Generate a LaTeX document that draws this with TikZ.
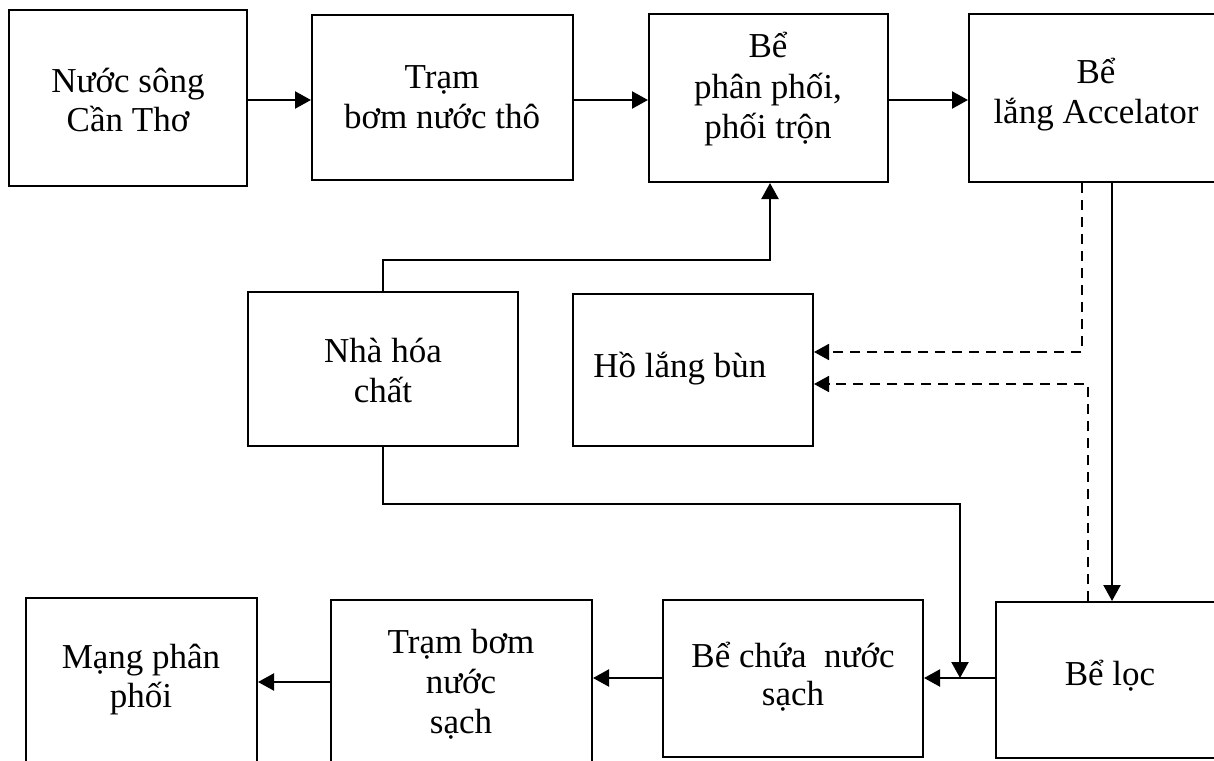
\documentclass[tikz,border=0pt]{standalone}
\usepackage{fontspec}
\setmainfont{Liberation Serif}
\usetikzlibrary{arrows.meta,fit}
\begin{document}
\begin{tikzpicture}[x=0.5pt,y=-0.5pt,
  blk/.style={draw, line width=1pt, inner sep=0pt, rectangle},
  txt/.style={anchor=base, inner sep=0pt, font=\fontsize{17.5pt}{20pt}\selectfont},
  arr/.style={line width=1.1pt, -{Triangle[length=8pt,width=8.5pt]}},
  darr/.style={line width=0.9pt, dash pattern=on 5pt off 3.5pt, -{Triangle[length=7.5pt,width=8pt]}}
]
\useasboundingbox (0,0) rectangle (1214,760);
\fill[white] (0,0) rectangle (1214,760);
\clip (0,0) rectangle (1214,760);

% boxes
\node[blk, fit={(9,10) (247,186)}] (b1) {};
\node[blk, fit={(312,15) (573,180)}] (b2) {};
\node[blk, fit={(649,14) (888,182)}] (b3) {};
\node[blk, fit={(969,14) (1224,182)}] (b4) {};
\node[blk, fit={(248,292) (518,446)}] (chem) {};
\node[blk, fit={(573,294) (813,446)}] (hlb) {};
\node[blk, fit={(26,598) (257,775)}] (mang) {};
\node[blk, fit={(331,600) (592,775)}] (tbs) {};
\node[blk, fit={(663,600) (923,757)}] (bcn) {};
\node[blk, fit={(996,602) (1224,758)}] (loc) {};

% texts
\node[txt] (t1a) at (128,92) {Nước sông};
\node[txt] (t1b) at (128,131) {Cần Thơ};
\node[txt] (t2a) at (442,88) {Trạm};
\node[txt] (t2b) at (442,128) {bơm nước thô};
\node[txt] (t3a) at (768,57) {Bể};
\node[txt] (t3b) at (768,98) {phân phối,};
\node[txt] (t3c) at (768,138) {phối trộn};
\node[txt] (t4a) at (1096,83) {Bể};
\node[txt] (t4b) at (1096,123) {lắng Accelator};
\node[txt] (tca) at (383,362) {Nhà hóa};
\node[txt] (tcb) at (383,402) {chất};
\node[txt, anchor=base west] (th) at (593,377) {Hồ lắng bùn};
\node[txt] (tma) at (141,668) {Mạng phân};
\node[txt] (tmb) at (141,707) {phối};
\node[txt] (tta) at (461,653) {Trạm bơm};
\node[txt] (ttb) at (461,693) {nước};
\node[txt] (ttc) at (461,733) {sạch};
\node[txt] (tba) at (793,667) {Bể chứa\ \ nước};
\node[txt] (tbb) at (793,705) {sạch};
\node[txt] (tl) at (1110,685) {Bể lọc};

% connectors
\coordinate (jn) at (960,678);
\draw[arr] (b1.east |- 0,100) -- (b2.west |- 0,100);
\draw[arr] (b2.east |- 0,100) -- (b3.west |- 0,100);
\draw[arr] (b3.east |- 0,100) -- (b4.west |- 0,100);
\draw[arr] (chem.north) |- (770,260) -- (770,0 |- b3.south);
\draw[darr] (1082,0 |- b4.south) |- (hlb.east |- 0,352);
\draw[darr] (1088,0 |- loc.north) |- (hlb.east |- 0,384);
\draw[arr] (1112,0 |- b4.south) -- (1112,0 |- loc.north);
\draw[arr] (chem.south) |- (960,504) -- (jn);
\draw[arr] (loc.west |- 0,678) -- (bcn.east |- 0,678);
\draw[arr] (bcn.west |- 0,678) -- (tbs.east |- 0,678);
\draw[arr] (tbs.west |- 0,682) -- (mang.east |- 0,682);
\end{tikzpicture}
\end{document}
